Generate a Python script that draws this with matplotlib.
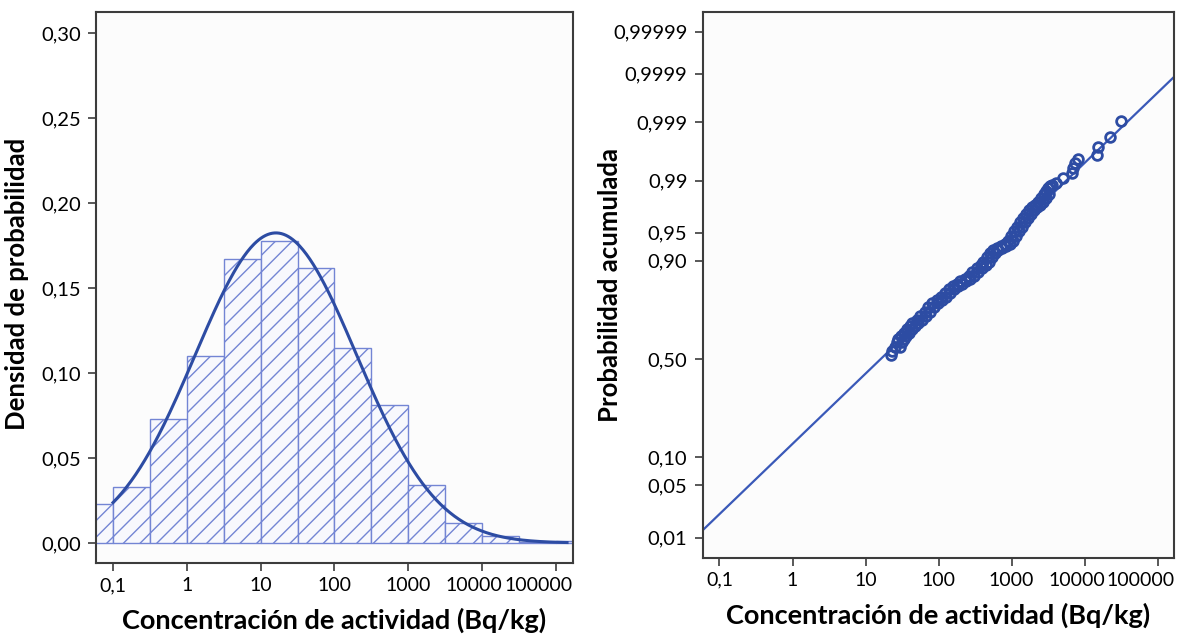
import numpy as np
import matplotlib.pyplot as plt
from matplotlib.transforms import ScaledTranslation
from statistics import NormalDist

plt.rcParams['font.family'] = ['Lato', 'DejaVu Sans']

# histogram: half-decade bins (Bq/kg) and probability per bin
bin_edges = [0.0316, 0.1, 0.316, 1, 3.16, 10, 31.6, 100, 316, 1000, 3162, 10000, 31623, 100000, 316228]
bin_prob = [0.023, 0.033, 0.073, 0.110, 0.167, 0.178, 0.162, 0.115, 0.081, 0.034, 0.012, 0.004, 0.0008, 0.0012]

# fitted lognormal (log10 space)
mu_log = 1.207
sigma_log = 1.093

# probability plot points (concentration, cumulative probability)
conc = [22.5, 23.4, 25.0, 26.6, 28.3, 30.2, 33.2, 36.5, 40.1, 44.0, 50.0, 56.6, 64.3, 72.9, 82.7,
        93.9, 106.5, 120.8, 137, 155.5, 176.5, 200, 227, 258, 292, 332, 376, 413, 455, 500,
        549, 623, 707, 802, 881, 969, 1065, 1170, 1288, 1415, 1555, 1710, 1880, 2065, 2270,
        2495, 2742, 2924, 3113, 3318, 3534, 4010, 5000, 6637, 6855, 7300, 8020, 14600, 15070,
        22000, 31100]
prob = [0.521, 0.541, 0.562, 0.588, 0.603, 0.618, 0.633, 0.652, 0.666, 0.681, 0.694, 0.713, 0.730,
        0.751, 0.767, 0.779, 0.791, 0.805, 0.819, 0.830, 0.836, 0.845, 0.852, 0.860, 0.872, 0.882,
        0.890, 0.897, 0.908, 0.9165, 0.9224, 0.926, 0.9296, 0.9331, 0.938, 0.9456, 0.9524, 0.9574,
        0.963, 0.967, 0.9706, 0.974, 0.9763, 0.9777, 0.9797, 0.9821, 0.9843, 0.9857, 0.9871, 0.988,
        0.9884, 0.9891, 0.9909, 0.9923, 0.9936, 0.9947, 0.9954, 0.9961, 0.99715, 0.9981, 0.99904]
# right edge of the dense band (tied values stacked)
conc_b = [30.0, 31.9, 34.0, 36.2, 39.8, 43.8, 48.1, 52.8, 60.0, 67.9, 77.2, 87.5, 99.2, 112.7,
          127.8, 145, 164, 186.6, 211.8, 240, 272, 310, 350, 398, 451, 496, 546, 600, 659, 748,
          848, 962, 1057, 1163, 1278, 1404, 1546, 1698, 1866, 2052, 2256, 2478, 2724, 2994, 3290]
prob_b = [0.562, 0.588, 0.603, 0.618, 0.633, 0.652, 0.666, 0.681, 0.694, 0.713, 0.730, 0.751, 0.767,
          0.779, 0.791, 0.805, 0.819, 0.830, 0.836, 0.845, 0.852, 0.860, 0.872, 0.882, 0.890, 0.897,
          0.908, 0.9165, 0.9224, 0.926, 0.9296, 0.9331, 0.938, 0.9456, 0.9524, 0.9574, 0.963, 0.967,
          0.9706, 0.974, 0.9763, 0.9777, 0.9797, 0.9821, 0.9843]

x_ticks = [0.1, 1, 10, 100, 1000, 10000, 100000]
x_labels = ["0,1", "1", "10", "100", "1000", "10000", "100000"]
y_ticks_left = [0, 0.05, 0.10, 0.15, 0.20, 0.25, 0.30]
y_labels_left = ["0,00", "0,05", "0,10", "0,15", "0,20", "0,25", "0,30"]
p_ticks = [0.01, 0.05, 0.10, 0.50, 0.90, 0.95, 0.99, 0.999, 0.9999, 0.99999]
p_labels = ["0,01", "0,05", "0,10", "0,50", "0,90", "0,95", "0,99", "0,999", "0,9999", "0,99999"]

nd = NormalDist()
dark = "#2d4ca3"
light = "#7385d4"
spine_c = "#3c3c3c"

_ppf = np.vectorize(nd.inv_cdf, otypes=[float])
_cdf = np.vectorize(nd.cdf, otypes=[float])


def p2z(p):
    p = np.clip(np.asarray(p, dtype=float), 1e-12, 1 - 1e-12)
    return _ppf(p)


def z2p(z):
    return _cdf(np.asarray(z, dtype=float))


fig = plt.figure(figsize=(11.85, 6.42), dpi=100)
ax1 = fig.add_axes([0.081, 0.123, 0.4025, 0.858])
ax2 = fig.add_axes([0.593, 0.131, 0.398, 0.850])

for ax in (ax1, ax2):
    ax.set_facecolor("#fcfcfc")
    ax.set_xscale("log")
    ax.set_xlim(10 ** -1.23, 10 ** 5.23)
    ax.set_xticks(x_ticks)
    ax.set_xticklabels(x_labels)
    ax.minorticks_off()
    for s in ax.spines.values():
        s.set_color(spine_c)
        s.set_linewidth(1.5)
    ax.tick_params(axis="both", length=6, width=1.2, color=spine_c, labelsize=14.5, pad=5)
    ax.tick_params(axis="x", pad=4, labelsize=14)
    ax.set_xlabel("Concentración de actividad (Bq/kg)", fontsize=19.5, fontweight="bold", labelpad=10)
    # the two widest labels are nudged so they don't collide at the right frame
    labs = ax.get_xticklabels()
    labs[-2].set_transform(labs[-2].get_transform() + ScaledTranslation(-0.08, 0, fig.dpi_scale_trans))
    labs[-1].set_ha("right")
    labs[-1].set_transform(labs[-1].get_transform() + ScaledTranslation(0.17, 0, fig.dpi_scale_trans))

# left: histogram + lognormal curve
widths = np.diff(bin_edges)
ax1.bar(bin_edges[:-1], bin_prob, width=widths, align="edge", facecolor="#f7f8fd",
        edgecolor=light, linewidth=1.0, hatch="//")
xc = np.logspace(-1, 5.15, 400)
zc = (np.log10(xc) - mu_log) / sigma_log
ax1.plot(xc, 0.5 * np.exp(-0.5 * zc ** 2) / (sigma_log * np.sqrt(2 * np.pi)), color=dark, lw=2.2)
ax1.set_ylim(-0.0118, 0.3124)
ax1.set_yticks(y_ticks_left)
ax1.set_yticklabels(y_labels_left)
ax1.set_ylabel("Densidad de probabilidad", fontsize=18.5, fontweight="bold")
ax1.yaxis.set_label_coords(-0.14, 0.506)

# right: lognormal probability plot
ax2.set_yscale("function", functions=(p2z, z2p))
ax2.set_ylim(float(z2p(-2.59)), float(z2p(4.52)))
ax2.set_yticks(p_ticks)
ax2.set_yticklabels(p_labels)
ax2.minorticks_off()
xl = np.array([10 ** -1.3, 10 ** 5.3])
ax2.plot(xl, z2p((np.log10(xl) - mu_log) / sigma_log), color="#3a59b8", lw=1.6)
ax2.plot(conc, prob, "o", mfc="none", mec=dark, ms=7, mew=2)
ax2.plot(conc_b, prob_b, "o", mfc="none", mec=dark, ms=7, mew=2)
ax2.set_ylabel("Probabilidad acumulada", fontsize=18.5, fontweight="bold")
ax2.yaxis.set_label_coords(-0.172, 0.5)

fig.savefig("out.png", dpi=100)
